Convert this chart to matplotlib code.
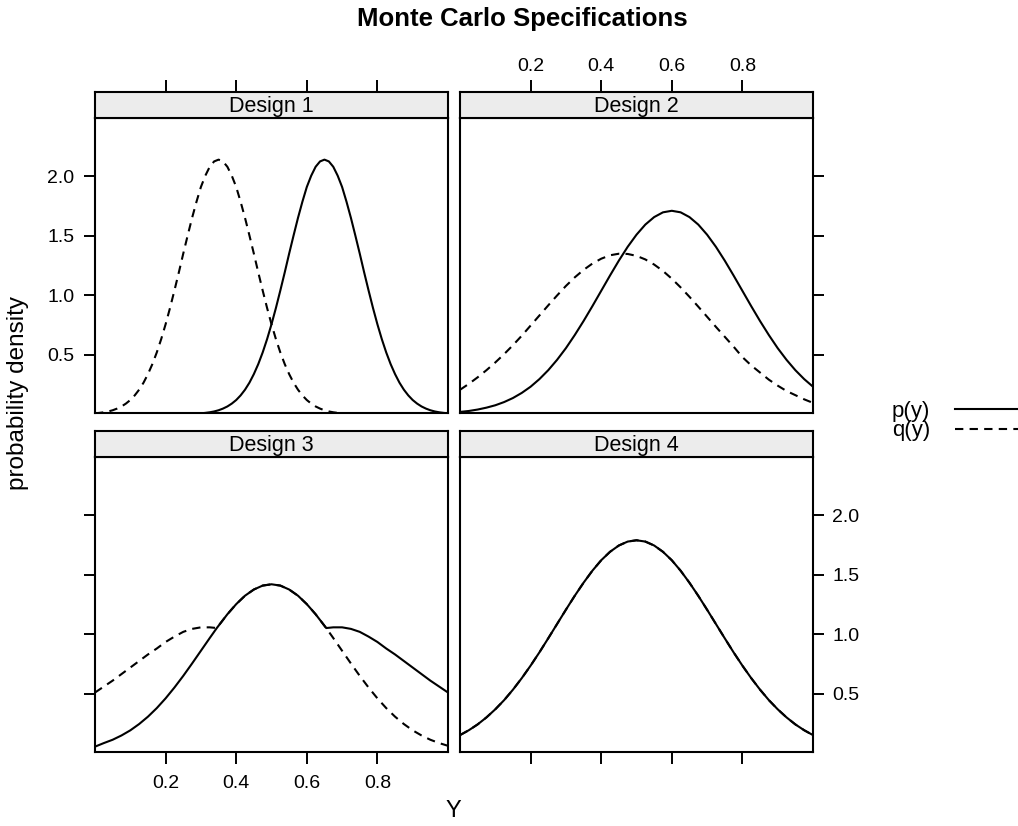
import numpy as np
import matplotlib
matplotlib.use("Agg")
import matplotlib.pyplot as plt
from matplotlib.lines import Line2D

plt.rcParams['font.family'] = ['Liberation Sans', 'DejaVu Sans']

# ---------------- data ----------------
# Design 1 (fine grid, step 0.0125)
y_grid1 = [round(0.0125 * k, 4) for k in range(81)]
p1 = [0.0, 0.0, 0.0, 0.0, 0.0, 0.0, 0.0, 0.0, 0.0, 0.0,
      0.0, 0.0, 0.0, 0.0, 0.0, 0.0, 0.0, 0.0, 0.001, 0.001,
      0.001, 0.002, 0.003, 0.005, 0.007, 0.011, 0.016, 0.023, 0.033, 0.047,
      0.065, 0.089, 0.119, 0.158, 0.206, 0.265, 0.337, 0.421, 0.519, 0.631,
      0.756, 0.893, 1.04, 1.192, 1.35, 1.502, 1.65, 1.786, 1.91, 2.005,
      2.08, 2.125, 2.14, 2.125, 2.08, 2.005, 1.91, 1.786, 1.65, 1.502,
      1.35, 1.192, 1.04, 0.893, 0.756, 0.631, 0.519, 0.421, 0.337, 0.265,
      0.206, 0.158, 0.119, 0.089, 0.065, 0.047, 0.033, 0.023, 0.016, 0.011,
      0.007]
q1 = [0.007, 0.011, 0.016, 0.023, 0.033, 0.047, 0.065, 0.089, 0.119, 0.158,
      0.206, 0.265, 0.337, 0.421, 0.519, 0.631, 0.756, 0.893, 1.04, 1.192,
      1.35, 1.502, 1.65, 1.786, 1.91, 2.005, 2.08, 2.125, 2.14, 2.125,
      2.08, 2.005, 1.91, 1.786, 1.65, 1.502, 1.35, 1.192, 1.04, 0.893,
      0.756, 0.631, 0.519, 0.421, 0.337, 0.265, 0.206, 0.158, 0.119, 0.089,
      0.065, 0.047, 0.033, 0.023, 0.016, 0.011, 0.007, 0.005, 0.003, 0.002,
      0.001, 0.001, 0.001, 0.0, 0.0, 0.0, 0.0, 0.0, 0.0, 0.0,
      0.0, 0.0, 0.0, 0.0, 0.0, 0.0, 0.0, 0.0, 0.0, 0.0,
      0.0]

y_grid = [0.0, 0.025, 0.05, 0.075, 0.1, 0.125, 0.15, 0.175, 0.2, 0.225,
          0.25, 0.275, 0.3, 0.325, 0.35, 0.375, 0.4, 0.425, 0.45, 0.475,
          0.5, 0.525, 0.55, 0.575, 0.6, 0.625, 0.65, 0.675, 0.7, 0.725,
          0.75, 0.775, 0.8, 0.825, 0.85, 0.875, 0.9, 0.925, 0.95, 0.975, 1.0]

# Design 2
p2 = [0.019, 0.027, 0.039, 0.055, 0.075, 0.102, 0.136, 0.179, 0.231, 0.295,
      0.370, 0.457, 0.555, 0.665, 0.783, 0.908, 1.037, 1.166, 1.291, 1.407,
      1.509, 1.594, 1.657, 1.697, 1.71, 1.697, 1.657, 1.594, 1.509, 1.407,
      1.291, 1.166, 1.037, 0.908, 0.783, 0.665, 0.555, 0.457, 0.370, 0.295, 0.231]
q2 = [0.205, 0.255, 0.31, 0.37, 0.435, 0.505, 0.58, 0.66, 0.745, 0.83,
      0.915, 0.998, 1.078, 1.15, 1.213, 1.266, 1.307, 1.336, 1.349, 1.347,
      1.331, 1.301, 1.258, 1.204, 1.139, 1.066, 0.987, 0.904, 0.819, 0.734,
      0.651, 0.568, 0.48, 0.41, 0.35, 0.29, 0.24, 0.195, 0.16, 0.125, 0.095]

# Design 3 (grid with the two join points)
y_grid3 = [0.0, 0.025, 0.05, 0.075, 0.1, 0.125, 0.15, 0.175, 0.2, 0.225,
           0.25, 0.275, 0.3, 0.325, 0.345, 0.375, 0.4, 0.425, 0.45, 0.475,
           0.5, 0.525, 0.55, 0.575, 0.6, 0.625, 0.655, 0.675, 0.7, 0.725,
           0.75, 0.775, 0.8, 0.825, 0.85, 0.875, 0.9, 0.925, 0.95, 0.975, 1.0]
p3 = [0.055, 0.085, 0.113, 0.149, 0.192, 0.245, 0.307, 0.379, 0.461, 0.552,
      0.650, 0.754, 0.861, 0.968, 1.052, 1.168, 1.253, 1.324, 1.376, 1.409,
      1.42, 1.409, 1.376, 1.324, 1.253, 1.168, 1.052, 1.058, 1.058, 1.045,
      1.02, 0.98, 0.935, 0.88, 0.83, 0.775, 0.72, 0.665, 0.61, 0.56, 0.51]
q3 = [0.51, 0.56, 0.61, 0.665, 0.72, 0.775, 0.83, 0.88, 0.935, 0.98,
      1.02, 1.045, 1.058, 1.058, 1.052, 1.168, 1.253, 1.324, 1.376, 1.409,
      1.42, 1.409, 1.376, 1.324, 1.253, 1.168, 1.052, 0.968, 0.861, 0.754,
      0.650, 0.552, 0.461, 0.379, 0.307, 0.245, 0.192, 0.149, 0.113, 0.085, 0.062]

# Design 4 (p and q coincide)
p4 = [0.152, 0.193, 0.242, 0.301, 0.369, 0.446, 0.534, 0.631, 0.736, 0.848,
      0.966, 1.086, 1.206, 1.323, 1.433, 1.534, 1.622, 1.693, 1.746, 1.779,
      1.79, 1.779, 1.746, 1.693, 1.622, 1.534, 1.433, 1.323, 1.206, 1.086,
      0.966, 0.848, 0.736, 0.631, 0.534, 0.446, 0.369, 0.301, 0.242, 0.193, 0.152]
q4 = list(p4)

designs = ["Design 1", "Design 2", "Design 3", "Design 4"]
series = [(y_grid1, p1, q1), (y_grid, p2, q2), (y_grid3, p3, q3), (y_grid, p4, q4)]
x_ticks = [0.2, 0.4, 0.6, 0.8]
x_ticklabels = ["0.2", "0.4", "0.6", "0.8"]
y_ticks = [0.5, 1.0, 1.5, 2.0]
y_ticklabels = ["0.5", "1.0", "1.5", "2.0"]
legend_labels = ["p(y)", "q(y)"]

# ---------------- layout ----------------
W, H = 1018, 826
fig = plt.figure(figsize=(W / 100, H / 100), dpi=100)
fig.patch.set_facecolor("white")

def fr(x0, y0, x1, y1):
    return [x0 / W, 1 - y1 / H, (x1 - x0) / W, (y1 - y0) / H]

cols = [(95, 448), (460, 813)]
rows = [(92, 118, 413), (431, 457, 752)]  # strip top, plot top, plot bottom

LW = 1.5
DASH = (0, (4, 3))
TICK_FS = 14
lw_spine = 1.5

for i, name in enumerate(designs):
    r, c = divmod(i, 2)
    x0, x1 = cols[c]
    st, pt, pb = rows[r]
    ax = fig.add_axes(fr(x0, pt, x1, pb))
    sx = fig.add_axes(fr(x0, st, x1, pt))

    xs, pv, qv = series[i]
    ax.plot(xs, qv, color="black", lw=LW, linestyle=DASH)
    ax.plot(xs, pv, color="black", lw=LW)
    ax.set_xlim(0, 1.0)
    ax.set_ylim(0.01, 2.49)

    for sp in ax.spines.values():
        sp.set_linewidth(lw_spine)
    for sp in sx.spines.values():
        sp.set_linewidth(lw_spine)

    # strip
    sx.set_facecolor("#ececec")
    sx.set_xlim(0, 1.0)
    sx.set_ylim(0, 1)
    sx.set_yticks([])
    sx.text(0.5, 0.45, name, ha="center", va="center", fontsize=15.5,
            transform=sx.transAxes)

    # x ticks
    if r == 0:
        ax.set_xticks([])
        sx.set_xticks(x_ticks)
        sx.tick_params(axis="x", which="both", top=True, bottom=False,
                       labeltop=(c == 1), labelbottom=False, direction="out",
                       length=8.5, width=1.4, pad=4, labelsize=TICK_FS)
        if c == 1:
            sx.set_xticklabels(x_ticklabels)
    else:
        sx.set_xticks([])
        ax.set_xticks(x_ticks)
        ax.tick_params(axis="x", bottom=True, top=False, labelbottom=(c == 0),
                       direction="out", length=8.5, width=1.4, pad=8,
                       labelsize=TICK_FS)
        if c == 0:
            ax.set_xticklabels(x_ticklabels)

    # y ticks
    ax.set_yticks(y_ticks)
    if c == 0:
        ax.tick_params(axis="y", left=True, right=False, labelleft=(r == 0),
                       labelright=False, direction="out", length=8, width=1.4,
                       pad=7, labelsize=TICK_FS)
    else:
        ax.tick_params(axis="y", left=False, right=True, labelleft=False,
                       labelright=(r == 1), direction="out", length=8,
                       width=1.4, pad=6, labelsize=TICK_FS)
    ax.set_yticklabels(y_ticklabels)

# titles / labels
fig.text(522 / W, 1 - 19 / H, "Monte Carlo Specifications", ha="center",
         va="center", fontsize=18.5, fontweight="bold")
fig.text(18 / W, 1 - 393 / H, "probability density", ha="center",
         va="center", rotation=90, fontsize=17.5)
fig.text(453 / W, 1 - 811 / H, "Y", ha="center", va="center", fontsize=17)

# legend
handles = [Line2D([], [], color="black", lw=LW),
           Line2D([], [], color="black", lw=LW, linestyle=DASH)]
fig.legend(handles, legend_labels, loc="center left",
           bbox_to_anchor=(892 / W, 1 - 421 / H), frameon=False,
           fontsize=16, markerfirst=False, handlelength=3.3,
           handletextpad=1.1, labelspacing=-0.05, borderpad=0,
           borderaxespad=0)

fig.savefig("out.png", dpi=100, facecolor="white")
